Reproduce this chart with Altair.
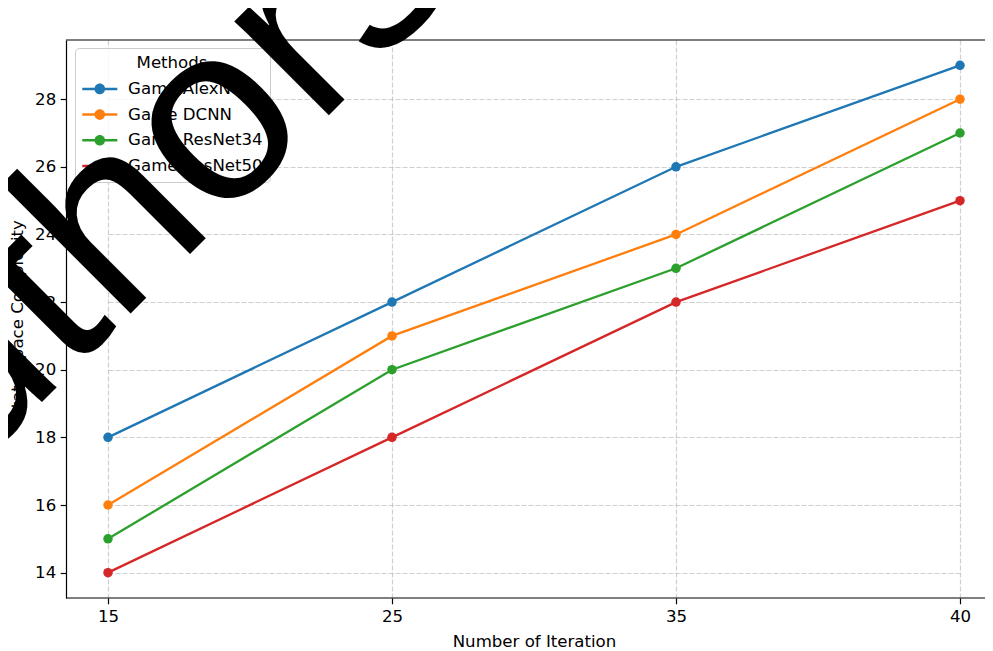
import altair as alt
import pandas as pd

iterations = ["15", "25", "35", "40"]
methods = ["Game AlexNet", "Game DCNN", "Game ResNet34", "Game ResNet50"]
alexnet = [18, 22, 26, 29]
dcnn = [16, 21, 24, 28]
resnet34 = [15, 20, 23, 27]
resnet50 = [14, 18, 22, 25]
colors = ["#1f77b4", "#ff7f0e", "#2ca02c", "#d62728"]
y_ticks = [14, 16, 18, 20, 22, 24, 26, 28]
watermark = "authors"

rows = []
for m, vals in zip(methods, [alexnet, dcnn, resnet34, resnet50]):
    for it, v in zip(iterations, vals):
        rows.append({"Iteration": it, "Method": m, "Value": v})
df = pd.DataFrame(rows)

W, H = 919, 558
FONT = "DejaVu Sans"
FS = 16.6

legend_path = ("M-2.92,-0.21L2.92,-0.21L2.92,0.21L-2.92,0.21Z "
               "M0.88,0A0.88,0.88,0,1,1,-0.88,0A0.88,0.88,0,1,1,0.88,0Z")

color = alt.Color(
    "Method:N",
    sort=methods,
    scale=alt.Scale(domain=methods, range=colors),
    legend=alt.Legend(
        title="Methods",
        orient="none",
        legendX=9,
        legendY=8,
        padding=7,
        fillColor="rgba(255,255,255,0.8)",
        strokeColor="#cccccc",
        cornerRadius=4,
        titleFont=FONT,
        titleFontSize=FS,
        titleFontWeight="normal",
        titleColor="#000000",
        titleAnchor="middle",
        titlePadding=9,
        labelFont=FONT,
        labelFontSize=FS,
        labelColor="#000000",
        symbolType=legend_path,
        symbolSize=144,
        symbolStrokeWidth=0,
        symbolOpacity=1,
        symbolOffset=9.5,
        labelOffset=20,
        rowPadding=8.7,
    ),
)

# plot area runs past the right edge of the picture: the four positions keep
# the same spacing as in the reference
x = alt.X(
    "Iteration:O",
    sort=iterations,
    scale=alt.Scale(type="point", range=[42, 894], padding=0),
    axis=alt.Axis(title="Number of Iteration", labelAngle=0, grid=True, domain=False,
                  titleX=468),
)
y = alt.Y(
    "Value:Q",
    scale=alt.Scale(domain=[13.25, 29.75], nice=False, zero=False),
    axis=alt.Axis(values=y_ticks, title="State Space Complexity", grid=True, titlePadding=9),
)

base = alt.Chart(df)
points = base.mark_point(filled=True, size=90, opacity=1).encode(x=x, y=y, color=color)
lines = base.mark_line(strokeWidth=2.3).encode(x=x, y=y, color=color)

frame = pd.DataFrame({"k": [0]})
top_spine = alt.Chart(frame).mark_rule(color="#000000", strokeWidth=1.2).encode(
    x=alt.value(0), x2=alt.value(W), y=alt.value(0))
bottom_spine = alt.Chart(frame).mark_rule(color="#000000", strokeWidth=1.2).encode(
    x=alt.value(0), x2=alt.value(W), y=alt.value(H))

main = alt.layer(points, lines, top_spine, bottom_spine)

# overlay text drawn on top of everything (carried by an extra, otherwise invisible axis)
overlay = alt.Chart(frame).mark_point(opacity=0).encode(
    y=alt.Y(
        "k:Q",
        axis=alt.Axis(
            orient="right", labels=False, ticks=False, domain=False, grid=False,
            title=watermark, titleFont="Liberation Sans", titleFontSize=252,
            titleFontWeight="normal",
            titleColor="#000000", titleAngle=315, titleAlign="left",
            titleBaseline="alphabetic", titleX=-196 - W, titleY=533,
            titleLimit=3000, zindex=3,
        ),
    )
)

chart = alt.layer(main, overlay).resolve_scale(y="independent").properties(
    width=W,
    height=H,
    title=alt.TitleParams(
        "State Space Complexity Cost Analyzis",
        font=FONT, fontSize=20, fontWeight="normal", color="#000000",
        anchor="middle", dx=8.5, offset=7,
    ),
    autosize=alt.AutoSizeParams(type="none"),
    padding={"left": 58, "top": 32, "right": 0, "bottom": 56},
).configure_view(stroke=None).configure_axis(
    labelFont=FONT, labelFontSize=FS, labelColor="#000000",
    titleFont=FONT, titleFontSize=FS, titleFontWeight="normal", titleColor="#000000",
    domainColor="#000000", domainWidth=1.2, tickColor="#000000", tickSize=5.8, tickWidth=1.2,
    labelPadding=4.5,
    gridColor="#b0b0b0", gridOpacity=0.6, gridDash=[5, 2], gridWidth=1.2,
).configure_axisX(titlePadding=9)

chart.save("out.html", embed_options={"renderer": "svg", "actions": False})
